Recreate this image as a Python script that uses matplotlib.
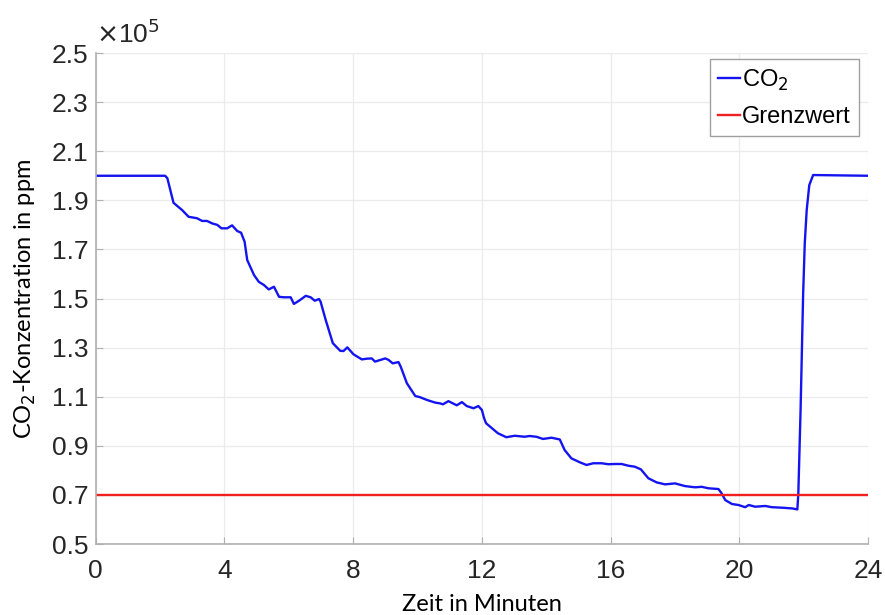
import numpy as np
import matplotlib.pyplot as plt

# CO2 curve (time in minutes, concentration in ppm)
t_min = [0.0, 2.16, 2.23, 2.42, 2.69, 2.89, 3.15, 3.31, 3.46, 3.62, 3.78, 3.91, 4.09,
         4.24, 4.40, 4.52, 4.63, 4.71, 4.92, 5.07, 5.23, 5.38, 5.54, 5.70, 5.85, 6.06,
         6.16, 6.32, 6.53, 6.68, 6.81, 6.94, 6.99, 7.15, 7.37, 7.60, 7.70, 7.82, 8.01,
         8.27, 8.43, 8.58, 8.68, 9.00, 9.10, 9.23, 9.41, 9.48, 9.67, 9.93, 10.08, 10.29,
         10.55, 10.70, 10.79, 10.96, 11.22, 11.38, 11.53, 11.74, 11.89, 12.00, 12.07,
         12.13, 12.50, 12.76, 13.02, 13.33, 13.48, 13.69, 13.90, 14.16, 14.42, 14.57,
         14.78, 15.04, 15.25, 15.46, 15.72, 15.93, 16.13, 16.34, 16.55, 16.75, 16.94,
         17.17, 17.43, 17.69, 18.00, 18.31, 18.62, 18.83, 19.04, 19.35, 19.45, 19.56,
         19.77, 19.97, 20.18, 20.29, 20.49, 20.80, 21.01, 21.32, 21.64, 21.80, 21.83,
         21.90, 21.98, 22.03, 22.09, 22.17, 22.29, 24.0]
co2_ppm = [200000, 200000, 199000, 189000, 186000, 183300, 182700, 181600, 181600,
           180600, 180000, 178600, 178600, 179800, 177500, 176800, 173100, 165700,
           159600, 156800, 155500, 153700, 154800, 150700, 150500, 150500, 147800,
           149100, 151100, 150500, 149100, 149800, 148700, 141200, 131800, 128700,
           128600, 130100, 127300, 125200, 125500, 125600, 124300, 125600, 125000,
           123600, 124100, 122200, 115500, 110300, 109800, 108700, 107600, 107300,
           106900, 108200, 106500, 107800, 106200, 105300, 106200, 104600, 101200,
           99200, 95100, 93500, 94100, 93700, 94000, 93700, 92800, 93300, 92600,
           88300, 84900, 83300, 82200, 82900, 82900, 82500, 82600, 82600, 81900,
           81500, 80400, 76800, 75100, 74300, 74700, 73600, 73100, 73300, 72700,
           72400, 70600, 67900, 66300, 65900, 65000, 65900, 65200, 65500, 65000,
           64800, 64500, 64100, 70600, 104600, 152100, 172500, 186000, 196200,
           200300, 200000]
limit_ppm = 70000

scale = 1e5
t = np.array(t_min)
co2 = np.array(co2_ppm) / scale

fig = plt.figure(figsize=(8.85, 6.15), dpi=100)
ax = fig.add_axes([0.108, 0.1154, 0.873, 0.7984])

ax.plot(t, co2, color='#1414f0', lw=1.7, label='CO$_2$')
ax.axhline(limit_ppm / scale, color='#f02020', lw=1.7, label='Grenzwert')

ax.set_xlim(0, 24)
ax.set_ylim(0.5, 2.5)
ax.set_xticks(np.arange(0, 25, 4))
ax.set_yticks(np.arange(0.5, 2.51, 0.2))
ax.set_yticklabels(['%.1f' % v for v in np.arange(0.5, 2.51, 0.2)])
ax.grid(True, color='#ebebeb', lw=0.9)
ax.set_axisbelow(True)
for s in ['top', 'right']:
    ax.spines[s].set_visible(False)
for s in ['left', 'bottom']:
    ax.spines[s].set_color('#b0b0b0')
    ax.spines[s].set_linewidth(1.2)
ax.tick_params(direction='in', length=5, color='#b0b0b0', labelsize=19,
               labelcolor='#262626')
ax.tick_params(axis='y', pad=5)
ax.tick_params(axis='x', pad=11)
for lab in ax.get_xticklabels() + ax.get_yticklabels():
    lab.set_family('Liberation Sans')

ax.text(0.0, 1.01, r'$\times$10$^5$', transform=ax.transAxes, fontsize=19,
        family='Liberation Sans', color='#262626', ha='left', va='bottom')

ax.set_xlabel('Zeit in Minuten', family='Lato', fontsize=17, labelpad=8)
ax.set_ylabel('CO$_2$-Konzentration in ppm', family='Lato', fontsize=17, labelpad=10)

leg = ax.legend(loc='upper right', bbox_to_anchor=(0.988, 0.987),
                prop={'family': 'Liberation Sans', 'size': 17}, handlelength=0.9,
                handletextpad=0.1, borderpad=0.35, labelspacing=0.55,
                fancybox=False, framealpha=1, edgecolor='#a0a0a0', borderaxespad=0)
leg.get_frame().set_linewidth(1.0)

fig.savefig('out.png', dpi=100)
